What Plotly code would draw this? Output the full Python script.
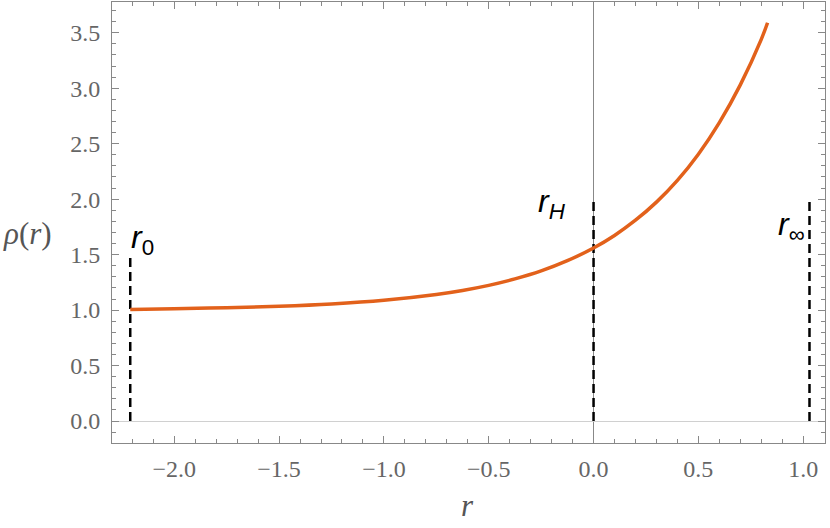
import plotly.graph_objects as go

# curve values
r_vals = [-2.21, -2.0, -1.75, -1.5, -1.25, -1.0, -0.75, -0.625, -0.5, -0.375,
          -0.25, -0.125, 0.0, 0.1, 0.2, 0.3, 0.4, 0.5, 0.6, 0.7, 0.8, 0.83]
rho_vals = [1.005, 1.013, 1.021, 1.035, 1.056, 1.089, 1.141, 1.177, 1.223, 1.281,
            1.353, 1.445, 1.56, 1.673, 1.81, 1.973, 2.169, 2.405, 2.69, 3.03,
            3.44, 3.59]

# marker positions (r0, rH, r_inf) and heights of the dashed lines
mark_r = [-2.21, 0.0, 1.03]
mark_top = [1.5, 2.0, 2.0]
mark_names = ["<i>r</i><sub>0</sub>", "<i>r</i><sub><i>H</i></sub>", "<i>r</i><sub>∞</sub>"]
label_x = [-2.15, -0.2, 0.945]
label_y = [1.64, 1.96, 1.75]

SERIF = "Times New Roman, Liberation Serif, serif"

fig = go.Figure()

for xm, yt in zip(mark_r, mark_top):
    fig.add_trace(go.Scatter(
        x=[xm, xm], y=[0, yt], mode="lines",
        line=dict(color="black", width=2.5, dash="9px,5px"),
        hoverinfo="skip", showlegend=False))

fig.add_trace(go.Scatter(
    x=r_vals, y=rho_vals, mode="lines",
    line=dict(color="#E2611B", width=3.5, shape="spline", smoothing=1.0),
    showlegend=False))

for name, lx, ly in zip(mark_names, label_x, label_y):
    fig.add_annotation(x=lx, y=ly, text=name, showarrow=False,
                       xanchor="center", yanchor="middle",
                       font=dict(family="Liberation Sans, Arial, sans-serif", size=32, color="black"))

# axis titles
fig.add_annotation(xref="paper", yref="paper", x=-0.118, y=0.476,
                   text="<i>ρ</i>(<i>r</i>)", showarrow=False,
                   xanchor="center", yanchor="middle",
                   font=dict(family=SERIF, size=31, color="#555"))
fig.add_annotation(xref="paper", yref="paper", x=0.498, y=-0.141,
                   text="<i>r</i>", showarrow=False,
                   xanchor="center", yanchor="middle",
                   font=dict(family=SERIF, size=31, color="#555"))

axis_common = dict(
    showgrid=False, showline=True, linecolor="#888", linewidth=1,
    mirror="ticks", ticks="inside", ticklen=7, tickcolor="#888", tickwidth=1,
    tickfont=dict(family=SERIF, size=24, color="#666"),
    tickformat=".1f",
    minor=dict(ticks="inside", ticklen=4, tickcolor="#888", dtick=0.1),
)

fig.update_xaxes(range=[-2.297, 1.104], dtick=0.5, tick0=0,
                 zeroline=True, zerolinecolor="#888", zerolinewidth=1,
                 ticklabelstandoff=4, **axis_common)
fig.update_yaxes(range=[-0.198, 3.777], dtick=0.5, tick0=0,
                 zeroline=True, zerolinecolor="#d0d0d0", zerolinewidth=1,
                 ticklabelstandoff=6, **axis_common)

fig.update_layout(
    width=830, height=528,
    margin=dict(l=112, r=5, t=2, b=85),
    plot_bgcolor="white", paper_bgcolor="white",
    font=dict(family=SERIF),
)

fig.write_html("out.html", config={"displayModeBar": False},
               post_script="document.body.style.margin='0px';")
